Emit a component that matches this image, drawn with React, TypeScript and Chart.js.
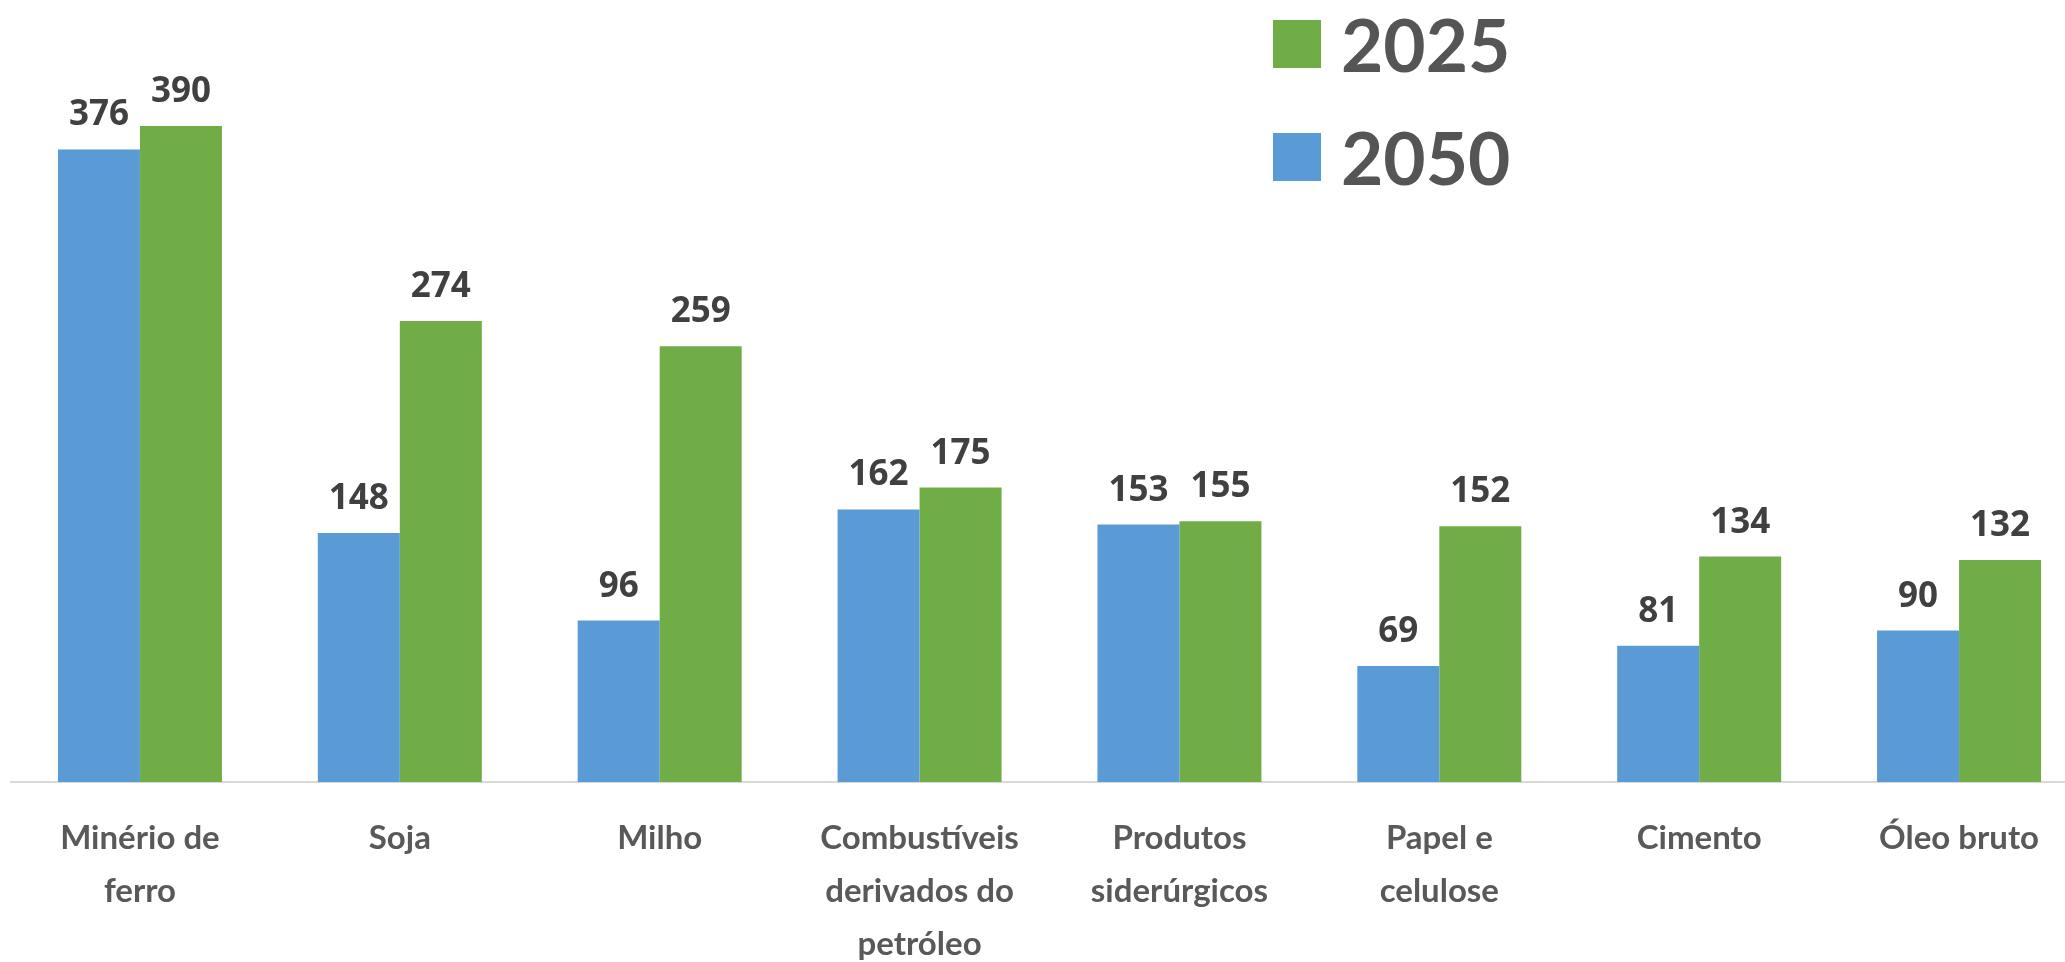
import React, { useEffect, useRef } from "react";
import { Chart, registerables } from "chart.js";

Chart.register(...registerables);

const categories: string[][] = [
  ["Minério de", "ferro"],
  ["Soja"],
  ["Milho"],
  ["Combustíveis", "derivados do", "petróleo"],
  ["Produtos", "siderúrgicos"],
  ["Papel e", "celulose"],
  ["Cimento"],
  ["Óleo bruto"],
];
const seriesLabels = ["2050", "2025"];
const values2050 = [376, 148, 96, 162, 153, 69, 81, 90];
const values2025 = [390, 274, 259, 175, 155, 152, 134, 132];
const yMin = 0;
const yMax = 450;

const BLUE = "#5B9BD5";
const GREEN = "#70AD47";

const valueLabelPlugin = {
  id: "valueLabels",
  afterDatasetsDraw(chart: any) {
    const ctx = chart.ctx;
    ctx.save();
    ctx.font = "bold 35px 'Open Sans'";
    ctx.fillStyle = "#404040";
    ctx.textAlign = "center";
    ctx.textBaseline = "alphabetic";
    chart.data.datasets.forEach((ds: any, di: number) => {
      const meta = chart.getDatasetMeta(di);
      meta.data.forEach((el: any, i: number) => {
        ctx.fillText(String(ds.data[i]), el.x, el.y - 24);
      });
    });
    ctx.restore();
  },
};

const legendPlugin = {
  id: "sideLegend",
  afterDraw(chart: any) {
    const ctx = chart.ctx;
    ctx.save();
    const order = [1, 0];
    order.forEach((di, row) => {
      const ds = chart.data.datasets[di];
      const top = 20 + row * 113;
      ctx.fillStyle = ds.backgroundColor;
      ctx.fillRect(1263, top, 48, 48);
      ctx.fillStyle = "#555555";
      ctx.font = "bold 73px Lato";
      ctx.textAlign = "left";
      ctx.textBaseline = "alphabetic";
      ctx.fillText(ds.label, 1331, top + 52);
    });
    ctx.restore();
  },
};

export default function App() {
  const ref = useRef<HTMLCanvasElement | null>(null);
  useEffect(() => {
    if (!ref.current) return;
    const chart = new Chart(ref.current, {
      type: "bar",
      data: {
        labels: categories,
        datasets: [
          {
            label: seriesLabels[0],
            data: values2050,
            backgroundColor: BLUE,
            categoryPercentage: 0.631,
            barPercentage: 1.0,
          },
          {
            label: seriesLabels[1],
            data: values2025,
            backgroundColor: GREEN,
            categoryPercentage: 0.631,
            barPercentage: 1.0,
          },
        ],
      },
      options: {
        responsive: false,
        animation: false,
        layout: { padding: { top: 25, left: 0, right: 0, bottom: 0 } },
        plugins: {
          legend: { display: false },
          tooltip: { enabled: false },
        },
        scales: {
          x: {
            grid: { display: false, drawTicks: false },
            border: { display: true, color: "#D9D9D9", width: 2 },
            ticks: {
              autoSkip: false,
              maxRotation: 0,
              minRotation: 0,
              padding: 30,
              color: "#595959",
              font: { family: "Lato", weight: "bold", size: 33, lineHeight: 1.6 },
            },
            afterFit: (scale: any) => {
              scale.height = 180;
            },
          },
          y: {
            display: false,
            min: yMin,
            max: yMax,
          },
        },
      },
      plugins: [valueLabelPlugin, legendPlugin],
    });
    return () => chart.destroy();
  }, []);
  return (
    <div
      style={{
        position: "fixed",
        left: 0,
        top: 0,
        width: 2065,
        height: 962,
        overflow: "hidden",
        background: "#ffffff",
      }}
    >
      <canvas
        ref={ref}
        width={2079}
        height={962}
        style={{ position: "absolute", left: 10, top: 0, width: 2079, height: 962 }}
      />
    </div>
  );
}
